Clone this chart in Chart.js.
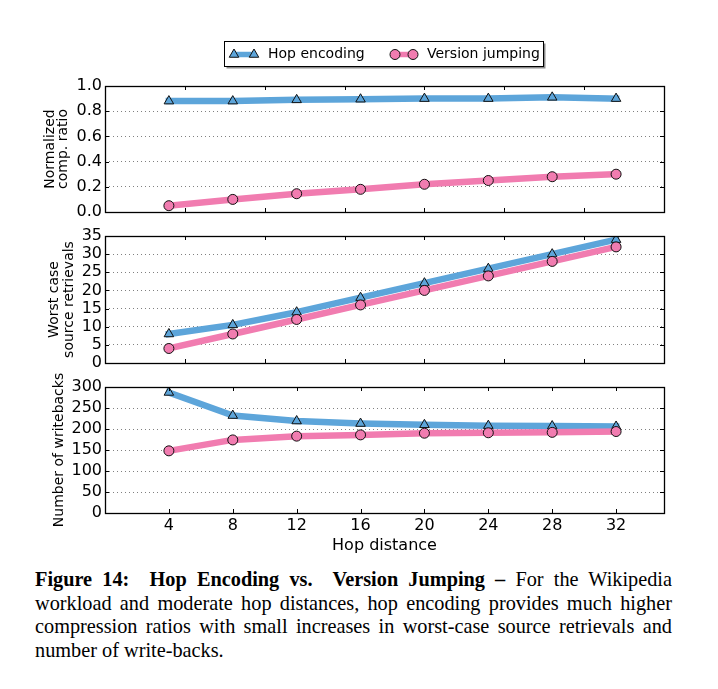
<!DOCTYPE html>
<html><head><meta charset="utf-8">
<script src="https://cdn.jsdelivr.net/npm/chart.js@4"></script>
<style>
html,body{margin:0;padding:0;background:#fff;}
#wrap{position:relative;width:718px;height:689px;overflow:hidden;background:#fff;}
#wrap canvas{position:absolute;left:0;}
#caption{position:absolute;left:35px;top:568px;width:637px;font-family:"Liberation Serif","Times New Roman",serif;font-size:20.3px;line-height:23.7px;color:#000;}
#caption .j{text-align:justify;text-align-last:justify;}
</style>
</head><body>
<div id="wrap">
<canvas id="c1" width="718" height="230" style="top:0px;width:718px;height:230px"></canvas>
<canvas id="c2" width="718" height="160" style="top:220px;width:718px;height:160px"></canvas>
<canvas id="c3" width="718" height="190" style="top:370px;width:718px;height:190px"></canvas>
<div id="caption">
<div class="j"><b>Figure 14:&nbsp; Hop Encoding vs.&nbsp; Version Jumping –</b> For the Wikipedia</div>
<div class="j">workload and moderate hop distances, hop encoding provides much higher</div>
<div class="j">compression ratios with small increases in worst-case source retrievals and</div>
<div>number of write-backs.</div>
</div>
</div>
<script>
// ---- data ----
const seriesNames = ['Hop encoding', 'Version jumping'];
const hops = [4, 8, 12, 16, 20, 24, 28, 32];
const hopRatio = [0.88, 0.88, 0.89, 0.895, 0.90, 0.90, 0.91, 0.90];
const jumpRatio = [0.05, 0.10, 0.145, 0.18, 0.22, 0.25, 0.28, 0.30];
const hopRetrievals = [8, 10.5, 14, 18, 22, 26, 30, 34];
const jumpRetrievals = [4, 8, 12, 16, 20, 24, 28, 32];
const hopWritebacks = [287, 232, 219, 213, 210, 208, 207, 206];
const jumpWritebacks = [148, 174, 183, 186, 190, 191, 192, 194];
const upperXTicks = [5, 10, 15, 20, 25, 30];
const bottomXTicks = [4, 8, 12, 16, 20, 24, 28, 32];
const ratioTicks = [0, 0.2, 0.4, 0.6, 0.8, 1.0];
const retrTicks = [0, 5, 10, 15, 20, 25, 30, 35];
const wbTicks = [0, 50, 100, 150, 200, 250, 300];
const yTitles = [['Normalized', 'comp. ratio'], ['Worst case', 'source retrievals'], 'Number of writebacks'];
const xTitle = 'Hop distance';

const BLUE = '#5DA5DA', PINK = '#F17CB0';
const FONT = "'DejaVu Sans', sans-serif";

const framePlugin = {
  id: 'frameTicks',
  afterDatasetsDraw(chart, args, opts) {
    const {ctx, chartArea: {left, right, top, bottom}, scales: {x, y}} = chart;
    ctx.save();
    ctx.strokeStyle = '#000';
    ctx.lineWidth = 1;
    ctx.beginPath();
    for (const v of opts.xTicks) {
      const px = Math.round(x.getPixelForValue(v)) + 0.5;
      ctx.moveTo(px, bottom); ctx.lineTo(px, bottom - 4);
      ctx.moveTo(px, top); ctx.lineTo(px, top + 4);
    }
    for (const t of y.ticks) {
      const py = Math.round(y.getPixelForValue(t.value)) + 0.5;
      ctx.moveTo(left, py); ctx.lineTo(left + 4, py);
      ctx.moveTo(right, py); ctx.lineTo(right - 4, py);
    }
    ctx.stroke();
    ctx.lineWidth = 1.3;
    ctx.strokeRect(left + 0.5, top + 0.5, right - left, bottom - top);
    ctx.restore();
  }
};

const legendPlugin = {
  id: 'boxLegend',
  afterDraw(chart, args, opts) {
    if (!opts.show) return;
    const ctx = chart.ctx;
    const ds = chart.data.datasets;
    ctx.save();
    const bx = 224.5, by = 41.5, bw = 319, bh = 25;
    ctx.fillStyle = 'rgba(0,0,0,0.45)';
    ctx.fillRect(bx + 2, by + 2, bw, bh);
    ctx.fillStyle = '#fff';
    ctx.fillRect(bx, by, bw, bh);
    ctx.strokeStyle = '#000'; ctx.lineWidth = 1;
    ctx.strokeRect(bx, by, bw, bh);
    const cy = 54.5;
    const items = [{x0: 234, x1: 254, tx: 268}, {x0: 395, x1: 413, tx: 427}];
    items.forEach((it, i) => {
      const d = ds[i];
      ctx.strokeStyle = d.borderColor; ctx.lineWidth = 5.5; ctx.lineCap = 'butt';
      ctx.beginPath(); ctx.moveTo(it.x0, cy); ctx.lineTo(it.x1, cy); ctx.stroke();
      [it.x0, it.x1].forEach(px => {
        ctx.fillStyle = d.pointBackgroundColor; ctx.strokeStyle = '#111'; ctx.lineWidth = 1;
        Chart.helpers.drawPoint(ctx, {pointStyle: d.pointStyle, radius: d.pointRadius, borderWidth: 1}, px, cy);
      });
      ctx.fillStyle = '#000';
      ctx.font = "14px " + FONT;
      ctx.textBaseline = 'middle'; ctx.textAlign = 'left';
      ctx.fillText(d.label, it.tx, cy);
    });
    ctx.restore();
  }
};

function makeDatasets(a, b) {
  return [
    {label: seriesNames[0], data: a, borderColor: BLUE, backgroundColor: BLUE, borderWidth: 6.5,
     pointStyle: 'triangle', pointRadius: 5.5, pointBackgroundColor: BLUE, pointBorderColor: '#111',
     pointBorderWidth: 1, borderCapStyle: 'square', borderJoinStyle: 'round', tension: 0, order: 1},
    {label: seriesNames[1], data: b, borderColor: PINK, backgroundColor: PINK, borderWidth: 6.5,
     pointStyle: 'circle', pointRadius: 5, pointBackgroundColor: PINK, pointBorderColor: '#111',
     pointBorderWidth: 1, borderCapStyle: 'square', borderJoinStyle: 'round', tension: 0, order: 0}
  ];
}

function panel(id, p) {
  return new Chart(document.getElementById(id), {
    type: 'line',
    data: {datasets: makeDatasets(p.a, p.b).map(d => ({...d, data: d.data.map((v, i) => ({x: hops[i], y: v}))}))},
    options: {
      responsive: false, animation: false, events: [],
      layout: {padding: {top: p.padTop, bottom: p.padBottom, left: 0, right: 54}},
      plugins: {legend: {display: false}, tooltip: {enabled: false},
        frameTicks: {xTicks: p.xTicks}, boxLegend: {show: !!p.legend}},
      scales: {
        x: {
          type: 'linear', min: 0, max: 35, display: p.showX,
          afterBuildTicks: s => { s.ticks = p.xTicks.map(v => ({value: v})); },
          afterFit: s => { s.height = p.showX ? 47 : 0; },
          grid: {display: false, drawTicks: false},
          border: {display: false},
          ticks: {autoSkip: false, maxRotation: 0, padding: 3.5, color: '#000', font: {family: FONT, size: 16},
                  callback: v => String(v)},
          title: {display: true, text: xTitle, color: '#000', font: {family: FONT, size: 16}, padding: {top: 0, bottom: 5}}
        },
        y: {
          min: p.yMin, max: p.yMax,
          afterBuildTicks: s => { s.ticks = p.yTicks.map(v => ({value: v})); },
          afterFit: s => { s.width = 105; },
          grid: {display: true, drawTicks: false, color: '#808080', lineWidth: 1},
          border: {display: false, dash: [1, 3]},
          ticks: {autoSkip: false, padding: 3, color: '#000', font: {family: FONT, size: 16}, callback: p.fmt},
          title: {display: true, text: p.title, color: '#000',
                  font: {family: FONT, size: 14, lineHeight: p.titleLH + 'px'}, padding: {top: p.titlePad, bottom: 0}}
        }
      }
    },
    plugins: [framePlugin, legendPlugin]
  });
}

panel('c1', {a: hopRatio, b: jumpRatio, yMin: 0, yMax: 1, yTicks: ratioTicks, fmt: v => v.toFixed(1),
  title: yTitles[0], titleLH: 13, titlePad: 43.7, padTop: 86, padBottom: 18, xTicks: upperXTicks, showX: false, legend: true});
panel('c2', {a: hopRetrievals, b: jumpRetrievals, yMin: 0, yMax: 35, yTicks: retrTicks, fmt: v => String(v),
  title: yTitles[1], titleLH: 15, titlePad: 46.7, padTop: 16, padBottom: 17, xTicks: upperXTicks, showX: false});
panel('c3', {a: hopWritebacks, b: jumpWritebacks, yMin: 0, yMax: 300, yTicks: wbTicks, fmt: v => String(v),
  title: yTitles[2], titleLH: 16.8, titlePad: 51.4, padTop: 17, padBottom: 0, xTicks: bottomXTicks, showX: true});
</script>
</body></html>
